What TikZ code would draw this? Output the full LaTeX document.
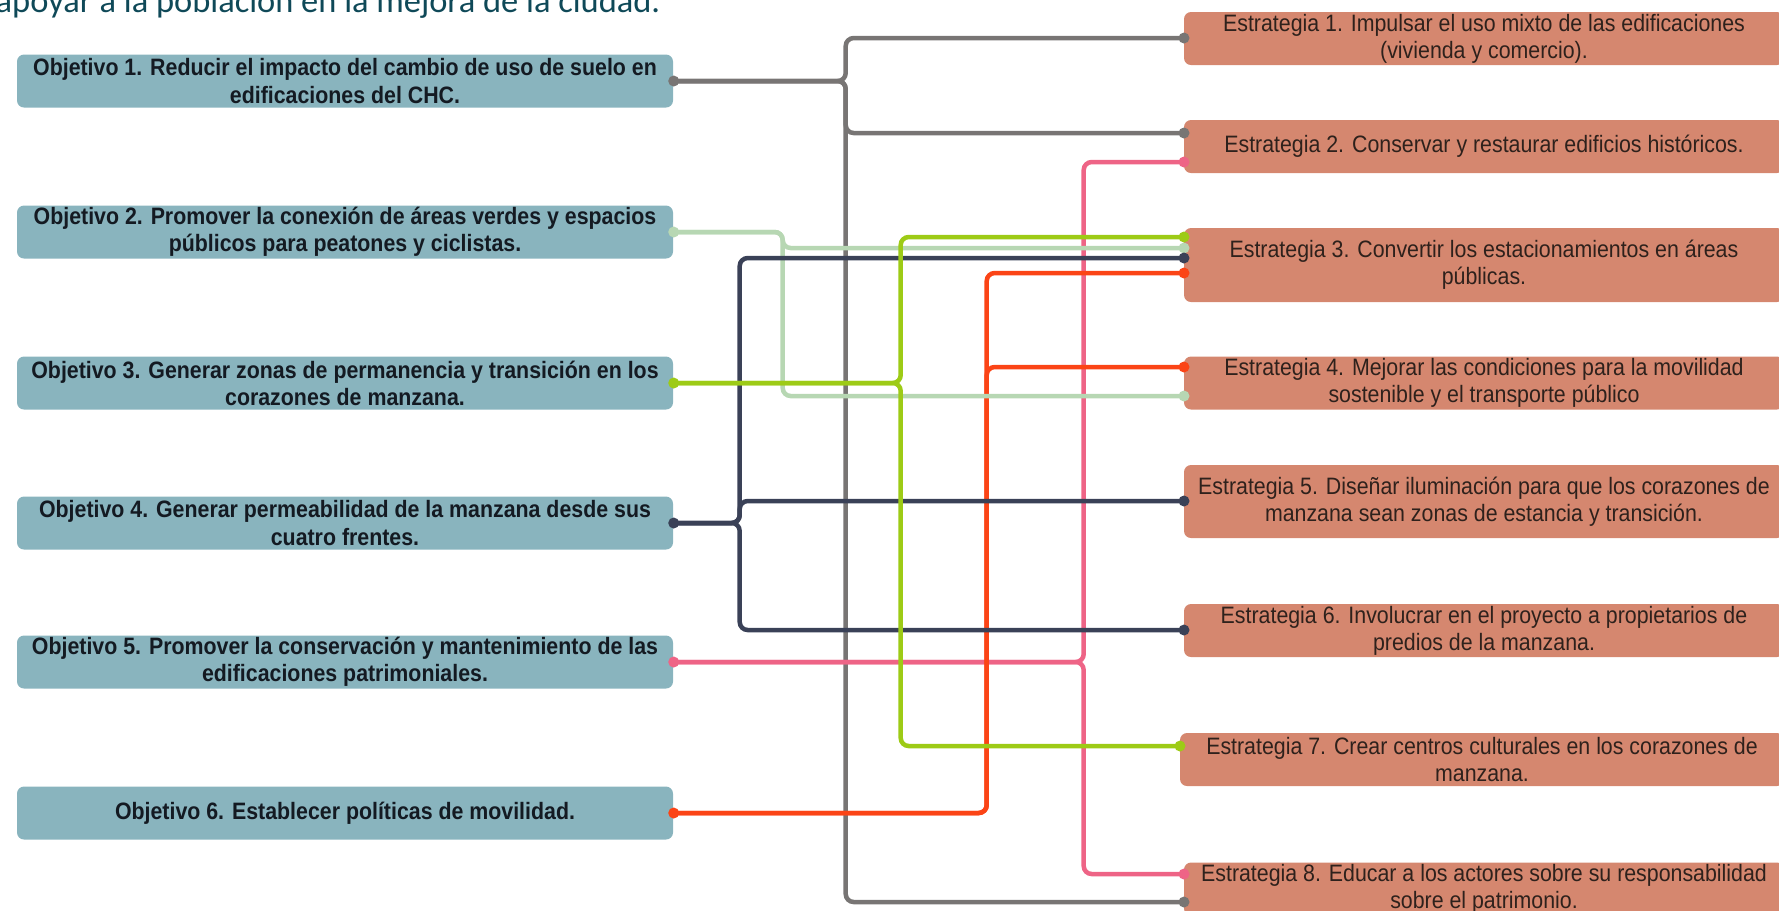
\documentclass[tikz,border=0pt]{standalone}
\usepackage{fontspec}
\setmainfont{Liberation Sans}[FakeStretch=0.9]
\newfontfamily\introfont{Carlito}

\definecolor{objfill}{HTML}{89B4BE}
\definecolor{estfill}{HTML}{D5876F}
\definecolor{objtext}{HTML}{141A22}
\definecolor{esttext}{HTML}{2E211C}
\definecolor{introtext}{HTML}{0F4958}
\definecolor{lgrey}{HTML}{787574}
\definecolor{lmint}{HTML}{B7D7B3}
\definecolor{llime}{HTML}{9DCB16}
\definecolor{lnavy}{HTML}{3A4157}
\definecolor{lpink}{HTML}{EE6486}
\definecolor{lred}{HTML}{FB4416}

\begin{document}
\begin{tikzpicture}[
        x=0.1mm, y=-0.1mm,
        objbox/.style={
            fill=objfill,
            rounded corners=0.7mm,
            minimum width=65.6mm,
            minimum height=5.3mm,
            inner sep=0pt,
            align=center,
            text=objtext,
            font=\bfseries\fontsize{6.75}{7.7}\selectfont
        },
        estbox/.style={
            fill=estfill,
            rounded corners=0.7mm,
            minimum width=60mm,
            minimum height=5.3mm,
            inner sep=0pt,
            align=center,
            text=esttext,
            font=\fontsize{6.75}{7.7}\selectfont
        },
        link/.style={line width=0.45mm, rounded corners=0.8mm}
    ]
        \useasboundingbox (0,0) rectangle (1779,910);
        \clip (0,0) rectangle (1779,910);

        \node[anchor=base west, inner sep=0pt, text=introtext, font=\introfont\fontsize{9.8}{11}\selectfont] (intro) at (-5,12.5) {apoyar a la población en la mejora de la ciudad.};

        % objetivos
        \node[objbox] (obj1) at (345,81) {Objetivo 1. Reducir el impacto del cambio de uso de suelo en\\edificaciones del CHC.};
        \node[objbox] (obj2) at (345,232) {Objetivo 2. Promover la conexión de áreas verdes y espacios\\públicos para peatones y ciclistas.};
        \node[objbox] (obj3) at (345,383) {Objetivo 3. Generar zonas de permanencia y transición en los\\corazones de manzana.};
        \node[objbox] (obj4) at (345,523) {Objetivo 4. Generar permeabilidad de la manzana desde sus\\cuatro frentes.};
        \node[objbox] (obj5) at (345,662) {Objetivo 5. Promover la conservación y mantenimiento de las\\edificaciones patrimoniales.};
        \node[objbox] (obj6) at (345,813) {Objetivo 6. Establecer políticas de movilidad.};

        % estrategias
        \node[estbox] (est1) at (1484,38.5) {Estrategia 1. Impulsar el uso mixto de las edificaciones\\(vivienda y comercio).};
        \node[estbox] (est2) at (1484,146.5) {Estrategia 2. Conservar y restaurar edificios históricos.};
        \node[estbox, minimum height=7.4mm] (est3) at (1484,265) {Estrategia 3. Convertir los estacionamientos en áreas\\públicas.};
        \node[estbox] (est4) at (1484,383) {Estrategia 4. Mejorar las condiciones para la movilidad\\sostenible y el transporte público};
        \node[estbox, minimum height=7.3mm] (est5) at (1484,501.5) {Estrategia 5. Diseñar iluminación para que los corazones de\\manzana sean zonas de estancia y transición.};
        \node[estbox] (est6) at (1484,630.5) {Estrategia 6. Involucrar en el proyecto a propietarios de\\predios de la manzana.};
        \node[estbox, minimum width=60.4mm] (est7) at (1482,759.5) {Estrategia 7. Crear centros culturales en los corazones de\\manzana.};
        \node[estbox] (est8) at (1484,889) {Estrategia 8. Educar a los actores sobre su responsabilidad\\sobre el patrimonio.};

        % puertos de las estrategias
        \coordinate (e1) at (1184,38);
        \coordinate (e2a) at (1184,133);
        \coordinate (e2b) at (1184,162);
        \coordinate (e3a) at (1184,237);
        \coordinate (e3b) at (1184,248);
        \coordinate (e3c) at (1184,258);
        \coordinate (e3d) at (1184,273);
        \coordinate (e4a) at (1184,367);
        \coordinate (e4b) at (1184,396);
        \coordinate (e5) at (1184,501);
        \coordinate (e6) at (1184,630);
        \coordinate (e7) at (1180,746);
        \coordinate (e8a) at (1184,874);
        \coordinate (e8b) at (1184,902);

        % conexiones
        \draw[link, lgrey] (obj1.east) -- ++(172,0) |- (e1);
        \draw[link, lgrey] (obj1.east) -- ++(172,0) |- (e2a);
        \draw[link, lgrey] (obj1.east) -- ++(172,0) |- (e8b);
        \draw[link, lpink] (obj5.east) -- ++(410,0) |- (e2b);
        \draw[link, lpink] (obj5.east) -- ++(410,0) |- (e8a);
        \draw[link, lred] (obj6.east) -- ++(313,0) |- (e3d);
        \draw[link, lred] (obj6.east) -- ++(313,0) |- (e4a);
        \draw[link, lmint] (obj2.east) -- ++(109,0) |- (e3b);
        \draw[link, lmint] (obj2.east) -- ++(109,0) |- (e4b);
        \draw[link, lnavy] (obj4.east) -- ++(66,0) |- (e3c);
        \draw[link, lnavy] (obj4.east) -- ++(66,0) |- (e5);
        \draw[link, lnavy] (obj4.east) -- ++(66,0) |- (e6);
        \draw[link, llime] (obj3.east) -- ++(227,0) |- (e3a);
        \draw[link, llime] (obj3.east) -- ++(227,0) |- (e7);

        % puntos
        \fill[lgrey] (obj1.east) circle (0.55mm) (e1) circle (0.55mm) (e2a) circle (0.55mm) (e8b) circle (0.55mm);
        \fill[lmint] (obj2.east) circle (0.55mm) (e3b) circle (0.55mm) (e4b) circle (0.55mm);
        \fill[llime] (obj3.east) circle (0.55mm) (e3a) circle (0.55mm) (e7) circle (0.55mm);
        \fill[lnavy] (obj4.east) circle (0.55mm) (e3c) circle (0.55mm) (e5) circle (0.55mm) (e6) circle (0.55mm);
        \fill[lpink] (obj5.east) circle (0.55mm) (e2b) circle (0.55mm) (e8a) circle (0.55mm);
        \fill[lred] (obj6.east) circle (0.55mm) (e3d) circle (0.55mm) (e4a) circle (0.55mm);
    \end{tikzpicture}
\end{document}
